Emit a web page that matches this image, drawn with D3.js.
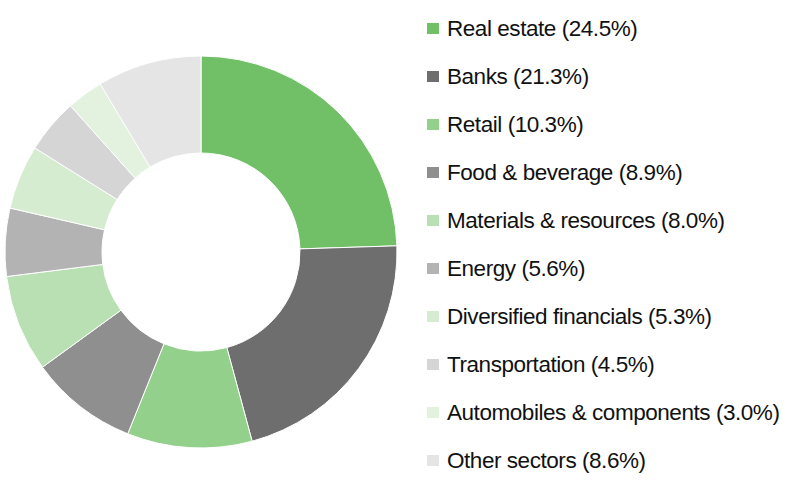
<!DOCTYPE html>
<html>
<head>
<meta charset="utf-8">
<script src="https://cdn.jsdelivr.net/npm/d3@7"></script>
<style>
  body { margin: 0; background: #fff; }
  svg { display: block; }
  .legend text { font-family: "Liberation Sans", Arial, sans-serif; font-size: 22.5px; letter-spacing: -0.45px; fill: #111; }
</style>
</head>
<body>
<div id="chart"></div>
<script>
// sector shares, clockwise from 12 o'clock
const sectors = ["Real estate", "Banks", "Retail", "Food & beverage", "Materials & resources",
  "Energy", "Diversified financials", "Transportation", "Automobiles & components", "Other sectors"];
const shares = [24.5, 21.3, 10.3, 8.9, 8.0, 5.6, 5.3, 4.5, 3.0, 8.6];
const colours = ["#71bf67", "#6e6e6e", "#93d08b", "#8f8f8f", "#b8e0b2",
  "#b3b3b3", "#d5ecd1", "#d5d5d5", "#e2f2df", "#e5e5e5"];

const width = 800, height = 482;
const cx = 201, cy = 252;
const outerR = 196, innerR = 99;

const svg = d3.select("#chart").append("svg")
    .attr("width", width)
    .attr("height", height);

const data = sectors.map((s, i) => ({name: s, value: shares[i], colour: colours[i]}));

const pie = d3.pie().value(d => d.value).sort(null);
const arc = d3.arc().innerRadius(innerR).outerRadius(outerR);

svg.append("g")
    .attr("transform", "translate(" + cx + "," + cy + ")")
    .selectAll("path")
    .data(pie(data))
    .join("path")
    .attr("d", arc)
    .attr("fill", d => d.data.colour)
    .attr("stroke", "#fff")
    .attr("stroke-width", 1);

// legend
const legendY = d3.scalePoint().domain(sectors).range([28, 460]);

const legend = svg.append("g").attr("class", "legend")
    .selectAll("g")
    .data(data)
    .join("g")
    .attr("transform", d => "translate(427," + legendY(d.name) + ")");

legend.append("rect")
    .attr("x", 0).attr("y", -5)
    .attr("width", 12).attr("height", 11)
    .attr("fill", d => d.colour);

legend.append("text")
    .attr("x", 20)
    .attr("y", 8)
    .text(d => d.name + " (" + d.value.toFixed(1) + "%)");
</script>
</body>
</html>
